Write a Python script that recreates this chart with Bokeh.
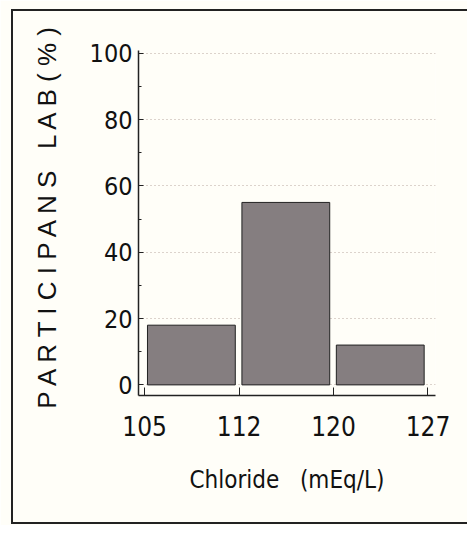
from bokeh.plotting import figure
from bokeh.models import Range1d, FixedTicker, InlineStyleSheet
from bokeh.embed import file_html
from bokeh.resources import INLINE

bins = ["105", "112", "120", "127"]
percent = [18, 55, 12]
y_ticks = [0, 20, 40, 60, 80, 100]

idx = list(range(len(percent)))
left = [i + 0.03 for i in idx]
right = [i + 0.96 for i in idx]
bottom = [0] * len(percent)

W, H = 467, 525
p = figure(width=W, height=H, output_backend="svg", toolbar_location=None,
           x_range=Range1d(-0.065, 3.08), y_range=Range1d(-3.2, 100.8),
           min_border_left=138, min_border_right=W - 435, min_border_top=50,
           min_border_bottom=H - 395)
p.background_fill_color = "#fffef8"
p.border_fill_color = "#fffef8"
p.outline_line_color = None

p.quad(left=left, right=right, bottom=bottom, top=percent,
       fill_color="#857e80", line_color="#222222", line_width=1)

font = "DejaVu Sans Condensed"
p.xaxis.ticker = FixedTicker(ticks=list(range(len(bins))))
p.xaxis.major_label_overrides = {i: b for i, b in enumerate(bins)}
p.xaxis.axis_label = "Chloride\u00a0\u00a0\u00a0(mEq/L)"
p.yaxis.axis_label = "\u00a0\u00a0\u00a0P A R T I C I P A N S\u00a0\u00a0 L A B ( % )"
p.yaxis.ticker = FixedTicker(ticks=y_ticks, minor_ticks=[10, 30, 50, 70, 90])

for ax in (p.xaxis, p.yaxis):
    ax.axis_line_color = "#222222"
    ax.axis_line_width = 1.5
    ax.major_tick_line_color = "#222222"
    ax.major_tick_in = 8
    ax.major_tick_out = 0
    ax.major_label_text_font = font
    ax.major_label_text_color = "#111111"
    ax.axis_label_text_font_style = "normal"
    ax.axis_label_text_color = "#111111"

p.xaxis.minor_tick_line_color = None
p.xaxis.major_label_text_font_size = "26px"
p.xaxis.major_label_standoff = 20
p.xaxis.axis_label_text_font = font
p.xaxis.axis_label_text_font_size = "24px"
p.xaxis.axis_label_standoff = 27

p.yaxis.major_tick_in = 5
p.yaxis.minor_tick_in = 3
p.yaxis.minor_tick_out = 0
p.yaxis.minor_tick_line_color = "#222222"
p.yaxis.major_label_text_font_size = "25px"
p.yaxis.major_label_standoff = 6
p.yaxis.axis_label_text_font = "Liberation Sans"
p.yaxis.axis_label_text_font_size = "26px"
p.yaxis.axis_label_standoff = 25

p.xgrid.grid_line_color = None
p.ygrid.grid_line_color = "#b8a8a0"
p.ygrid.grid_line_dash = "1 3"
p.ygrid.grid_line_width = 1

p.stylesheets = [InlineStyleSheet(css="""
:host { overflow: hidden; }
:host::after {
  content: "";
  position: absolute;
  left: 11px; top: 9px; right: -200px; bottom: 1px;
  border-left: 2px solid #222; border-top: 2px solid #222;
  border-bottom: 2px solid #222; border-right: none;
  pointer-events: none;
}
""")]

open("out.html", "w").write(file_html(p, INLINE))
